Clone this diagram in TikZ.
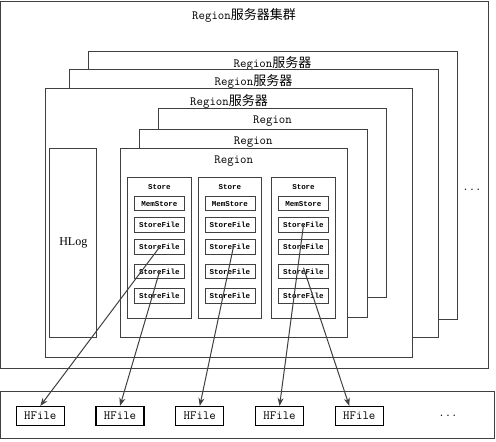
\documentclass[tikz,border=0pt]{standalone}
\usepackage{fontspec}
\usepackage{xcolor}
\setmainfont{Liberation Serif}
\newfontfamily\cjkfont{Noto Sans CJK SC}
\newfontfamily\monofont{Liberation Mono}
\usetikzlibrary{arrows.meta}
\definecolor{linegray}{HTML}{404040}
\newcommand{\srvname}{{\fontsize{12.5}{14}\ttfamily Region}{\fontsize{13}{15}\cjkfont 服务器}}

\begin{document}
\begin{tikzpicture}[x=1pt,y=-1pt]
                        \tikzset{Box/.style={%
                                shape=rectangle,%
                                draw=linegray,%
                                fill=white,%
                                line width=1pt,%
                                inner sep=0pt,%
                            }}
                        \tikzset{Cell/.style={%
                                Box,%
                                minimum width=50pt,%
                                minimum height=14.5pt,%
                                font=\fontsize{7.5}{8}\monofont\bfseries,%
                                node distance=22.2pt,%
                            }}
                        \tikzset{Tag/.style={%
                                inner sep=0pt,%
                                font=\fontsize{7.5}{8}\monofont\bfseries,%
                            }}
                        \tikzset{Title/.style={%
                                inner sep=0pt,%
                                font=\fontsize{12.5}{14}\ttfamily,%
                            }}
                        \tikzset{HFileBox/.style={%
                                shape=rectangle,%
                                draw=black,%
                                fill=white,%
                                line width=1.2pt,%
                                minimum width=48pt,%
                                minimum height=19pt,%
                                inner sep=0pt,%
                                font=\fontsize{12.5}{14}\ttfamily,%
                                node distance=79.75pt,%
                            }}
                        \tikzset{Link/.style={%
                                draw=linegray,%
                                line width=1pt,%
                                -{Stealth[length=8pt,width=6pt]},%
                            }}

                            \useasboundingbox (0,0) rectangle (496,442);

                            % cluster and the three servers
                            \node[Box, minimum width=488pt, minimum height=366.5pt] (cluster) at (244.5,184.75) {};
                            \node[Title] (clusterlbl) at (244,15.5) {\srvname{\fontsize{13}{15}\cjkfont 集群}};
                            \node[Title] (dotsR) at (472,189.5) {...};
                            \node[Box, minimum width=369pt, minimum height=267.5pt] (srv3) at (272.5,185.25) {};
                            \node[Title] (srv3lbl) at (272.5,63) {\srvname};
                            \node[Box, minimum width=369pt, minimum height=268pt] (srv2) at (253.5,203) {};
                            \node[Title] (srv2lbl) at (253.5,81) {\srvname};
                            \node[Box, minimum width=367.5pt, minimum height=268.6pt] (srv1) at (228.75,223) {};
                            \node[Title] (srv1lbl) at (229,101) {\srvname};

                            % regions
                            \node[Box, minimum width=228.4pt, minimum height=189pt] (reg3) at (272.5,202.8) {};
                            \node[Title] (reg3lbl) at (272.5,120.7) {Region};
                            \node[Box, minimum width=228pt, minimum height=188pt] (reg2) at (253.3,223.3) {};
                            \node[Title] (reg2lbl) at (253.3,141.7) {Region};
                            \node[Box, minimum width=227pt, minimum height=189pt] (reg1) at (233.8,242.8) {};
                            \node[Title] (reg1lbl) at (233.8,161) {Region};
                            \node[Box, minimum width=46.7pt, minimum height=189pt, font=\fontsize{12}{14}\selectfont] (hlog) at (73.3,242.8) {HLog};

                            % stores
                            \node[Box, minimum width=64pt, minimum height=140.7pt] (storeA) at (159.5,247.7) {};
                            \node[Tag] (storeAlbl) at (159.5,187.3) {Store};
                            \node[Cell, below of=storeAlbl, node distance=16.4pt] (memA) {MemStore};
                            \node[Cell, below of=memA, node distance=21.3pt] (sfA1) {StoreFile};
                            \node[Cell, below of=sfA1] (sfA2) {StoreFile};
                            \node[Cell, below of=sfA2, node distance=24.5pt] (sfA3) {StoreFile};
                            \node[Cell, below of=sfA3, node distance=24.1pt] (sfA4) {StoreFile};

                            \node[Box, minimum width=63.4pt, minimum height=140.7pt] (storeB) at (230,247.7) {};
                            \node[Tag] (storeBlbl) at (230,187.3) {Store};
                            \node[Cell, below of=storeBlbl, node distance=16.4pt] (memB) {MemStore};
                            \node[Cell, below of=memB, node distance=21.3pt] (sfB1) {StoreFile};
                            \node[Cell, below of=sfB1] (sfB2) {StoreFile};
                            \node[Cell, below of=sfB2, node distance=24.5pt] (sfB3) {StoreFile};
                            \node[Cell, below of=sfB3, node distance=24.1pt] (sfB4) {StoreFile};

                            \node[Box, minimum width=64.4pt, minimum height=140.7pt] (storeC) at (303.5,247.7) {};
                            \node[Tag] (storeClbl) at (303.5,187.3) {Store};
                            \node[Cell, below of=storeClbl, node distance=16.4pt] (memC) {MemStore};
                            \node[Cell, below of=memC, node distance=21.3pt] (sfC1) {StoreFile};
                            \node[Cell, below of=sfC1] (sfC2) {StoreFile};
                            \node[Cell, below of=sfC2, node distance=24.5pt] (sfC3) {StoreFile};
                            \node[Cell, below of=sfC3, node distance=24.1pt] (sfC4) {StoreFile};

                            % hfiles
                            \node[Box, minimum width=494pt, minimum height=47.3pt] (hdfs) at (247.4,415.3) {};
                            \node[HFileBox] (hf1) at (40.3,416) {HFile};
                            \node[HFileBox, right of=hf1] (hf2) {HFile};
                            \node[HFileBox, right of=hf2] (hf3) {HFile};
                            \node[HFileBox, right of=hf3] (hf4) {HFile};
                            \node[HFileBox, right of=hf4] (hf5) {HFile};
                            \node[Title] (dotsB) at (448,416) {...};

                            \path (sfA2.center) edge[Link] (hf1.north);
                            \path (sfA3.center) edge[Link] (hf2.north);
                            \path ([xshift=4pt,yshift=3pt]sfB2.center) edge[Link] (hf3.north);
                            \path (sfC1.center) edge[Link] (hf4.north);
                            \path ([yshift=4pt]sfC3.center) edge[Link] ([xshift=-10pt]hf5.north);
                    \end{tikzpicture}
\end{document}
